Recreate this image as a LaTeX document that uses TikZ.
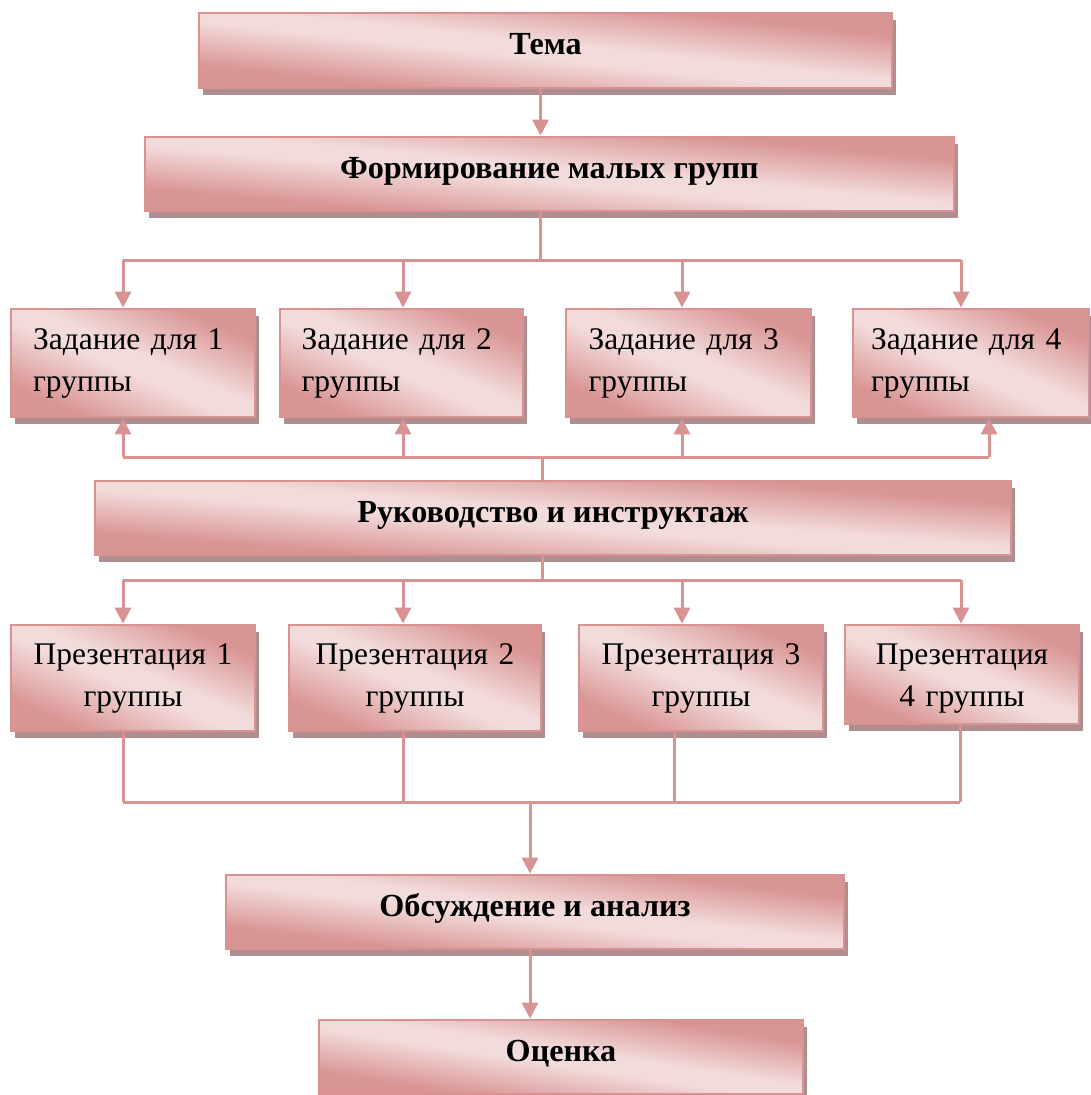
\documentclass[tikz,border=0pt]{standalone}
\usepackage{fontspec}
\setmainfont{Liberation Serif}
\newfontfamily\boxfont{Liberation Serif}[WordSpace=0.6]
\usepackage{tikz}
\usetikzlibrary{arrows.meta}
\usetikzlibrary{shadows}
\definecolor{pkline}{RGB}{216,146,146}
\definecolor{pkshadow}{RGB}{176,141,143}
% light band along the box diagonal, dark at bottom left and top right
\pgfdeclarefunctionalshading{pinkdiag}{\pgfpointorigin}{\pgfpoint{100bp}{100bp}}{}{
	add 100 sub abs 50 div
	0.1 sub 0.6 div
	dup 0 lt {pop 0} if
	dup 1 gt {pop 1} if
	dup dup
	-0.0980 mul 0.9490 add
	3 1 roll
	-0.2784 mul 0.8627 add
	exch
	-0.2784 mul 0.8588 add
}

\begin{document}
\begin{tikzpicture}[x=1pt,y=-1pt,>={Triangle[length=16pt,width=16pt]}]
\useasboundingbox (0,0) rectangle (1090,1095);

\tikzset{blok/.style 2 args={
	draw=pkline,
	line width=2.8pt,
	shading=pinkdiag,
	minimum width=#1pt,
	minimum height=#2pt,
	general shadow={fill=pkshadow, shadow xshift=4pt, shadow yshift=-7pt},
	inner sep=0pt,
	font=\boxfont\fontsize{31.5}{42}\selectfont
}}
\tikzstyle{kop}=[font=\rmfamily\fontsize{32.2}{42}\selectfont\bfseries, text height=21pt, text depth=12.5pt]
\tikzstyle{zad}=[text width=200pt, align=left]
\tikzstyle{pres}=[text width=226pt, align=center]
\tikzstyle{lijn}=[draw=pkline, line width=3pt]

%%TOP
\node (tema) [blok={693}{75}, kop] at (545.5,50.5) {Тема};
\node (form) [blok={809}{74}, kop] at (549.5,174) {Формирование малых групп};

%%TASKS
\node (zad1) [blok={244}{108}, zad] at (133,363) {Задание для 1\\группы};
\node (zad2) [blok={243}{108}, zad] at (401.5,363) {Задание для 2\\группы};
\node (zad3) [blok={245}{108}, zad] at (688.5,363) {Задание для 3\\группы};
\node (zad4) [blok={236}{108}, zad] at (971,363) {Задание для 4\\группы};

\node (ruk) [blok={916}{74}, kop] at (553,518) {Руководство и инструктаж};

%%PRESENTATIONS
\node (pres1) [blok={244}{106}, pres] at (133,678) {Презентация 1\\группы};
\node (pres2) [blok={252}{106}, pres] at (415,678) {Презентация 2\\группы};
\node (pres3) [blok={244}{106}, pres] at (701,678) {Презентация 3\\группы};
\node (pres4) [blok={234}{99}, pres] at (962,674.5) {\rule{0pt}{29pt}Презентация\\4 группы};

%%END
\node (obs) [blok={618}{74}, kop] at (535,912) {Обсуждение и анализ};
\node (ots) [blok={484}{74}, kop] at (561,1057) {Оценка};

%% bus under Формирование
\coordinate (b0) at (540.5,260);
\draw[lijn,->] (tema.south -| b0) -- (form.north -| b0);
\draw[lijn] (form.south -| b0) -- (b0);
\foreach \i/\x in {1/123,2/403,3/682,4/961} {
	\coordinate (t\i) at (\x,260);
	\draw[lijn,->] (t\i) -- (t\i |- zad\i.north);
}
\draw[lijn] (t1) -- (t4);

%% bus over Руководство
\coordinate (s2) at (542,457);
\draw[lijn] (ruk.north -| s2) -- (s2);
\foreach \i/\x in {1/123,2/403,3/682,4/989} {
	\coordinate (u\i) at (\x,457);
	\draw[lijn,->] (u\i) -- (u\i |- zad\i.south);
}
\draw[lijn] (u1) -- (u4);

%% bus under Руководство
\coordinate (s3) at (542,580);
\draw[lijn] (ruk.south -| s3) -- (s3);
\foreach \i/\x in {1/123,2/403,3/682,4/961} {
	\coordinate (v\i) at (\x,580);
	\draw[lijn,->] (v\i) -- (v\i |- pres\i.north);
}
\draw[lijn] (v1) -- (v4);

%% bus under presentations
\foreach \i/\x in {1/123,2/403,3/674,4/960} {
	\coordinate (w\i) at (\x,802);
	\draw[lijn] (w\i |- pres\i.south) -- (w\i);
}
\draw[lijn] (w1) -- (w4);
\coordinate (s4) at (530,802);
\draw[lijn,->] (s4) -- (obs.north -| s4);
\draw[lijn,->] (obs.south -| s4) -- (ots.north -| s4);

\end{tikzpicture}
\end{document}
